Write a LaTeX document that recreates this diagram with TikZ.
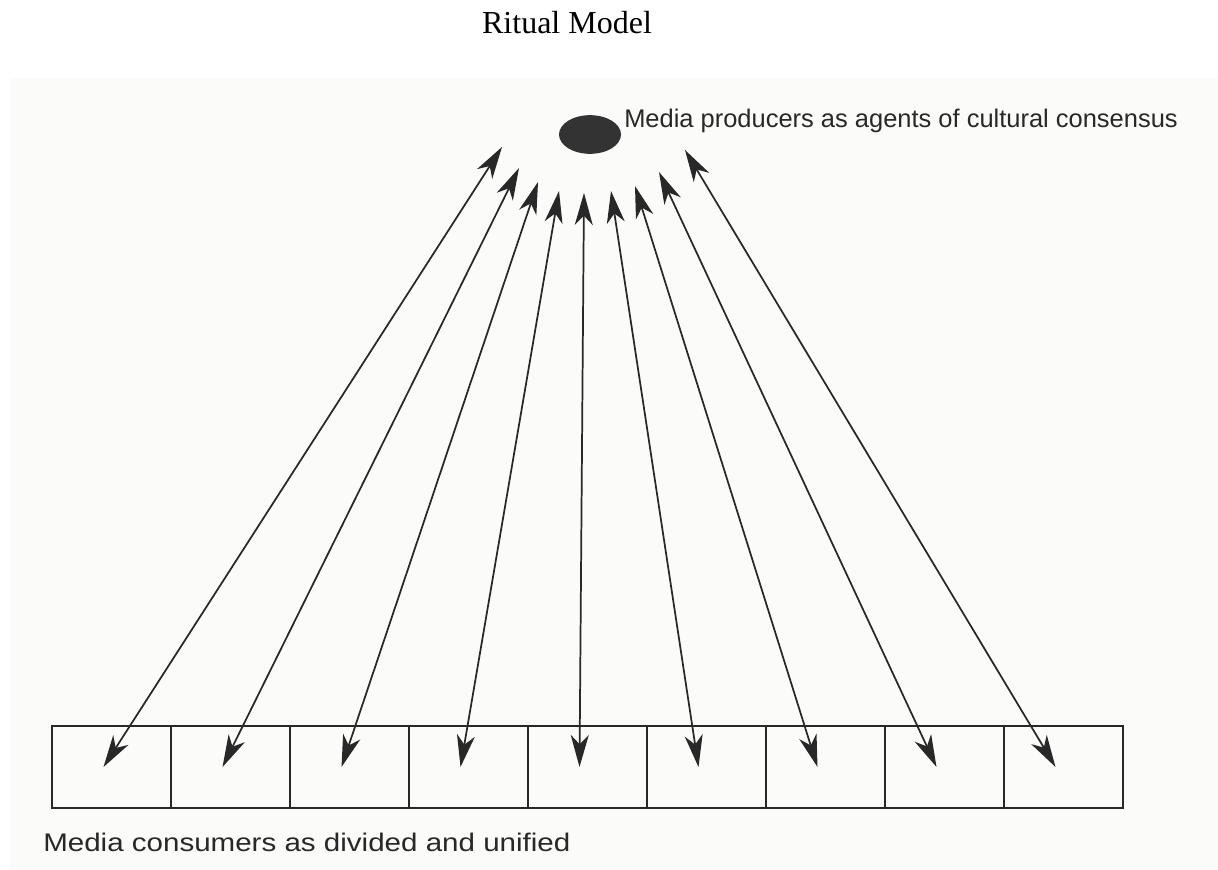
\documentclass[tikz,border=0pt]{standalone}
\usepackage{fontspec}
\setmainfont{Liberation Serif}
\setsansfont{Liberation Sans}
\usepackage{graphicx}
\usetikzlibrary{arrows.meta,positioning,shapes.geometric}
\definecolor{scanbg}{RGB}{251,251,249}
\definecolor{ink}{RGB}{40,40,40}

\begin{document}
\begin{tikzpicture}[
  x=0.75pt, y=-0.75pt, >={Stealth[length=24pt,width=13.5pt,inset=7pt]},
  ttl/.style={font=\rmfamily\fontsize{24}{28}\selectfont, inner sep=0pt, anchor=base},
  lab/.style={font=\sffamily\fontsize{19.1}{23}\selectfont, text=ink, inner sep=0pt, anchor=base west},
  prod/.style={ellipse, fill=ink!95, minimum width=46.5pt, minimum height=29pt, inner sep=0pt},
  cell/.style={draw=ink, line width=1.1pt, minimum width=89.25pt, minimum height=61.5pt, inner sep=0pt},
  link/.style={<->, draw=ink, line width=1.3pt}]
\useasboundingbox (0,0) rectangle (1218,870);
\fill[scanbg] (10,78) rectangle (1218,870);
\node[ttl] (title) at (567,34) {Ritual Model};
\node[prod] (prod) at (590,134.5) {};
\node[lab] (prodlab) at (624,128) {Media producers as agents of cultural consensus};
\foreach \i in {1,...,9}
  \node[cell] (c\i) at ({52+119*(\i-0.5)},767) {};
\node[lab] (conslab) at (43,851) {\scalebox{1.16}[1]{Media consumers as divided and unified}};
\foreach \tx/\ty [count=\i] in {502/147, 519/168, 538/182, 559/191, 584/193, 611/191, 635/186, 659/172, 685/150}
  \coordinate (t\i) at (\tx,\ty);
\foreach \i in {1,...,9}
  \draw[link] (t\i) -- ([xshift=-6pt]c\i.center);
\end{tikzpicture}
\end{document}
